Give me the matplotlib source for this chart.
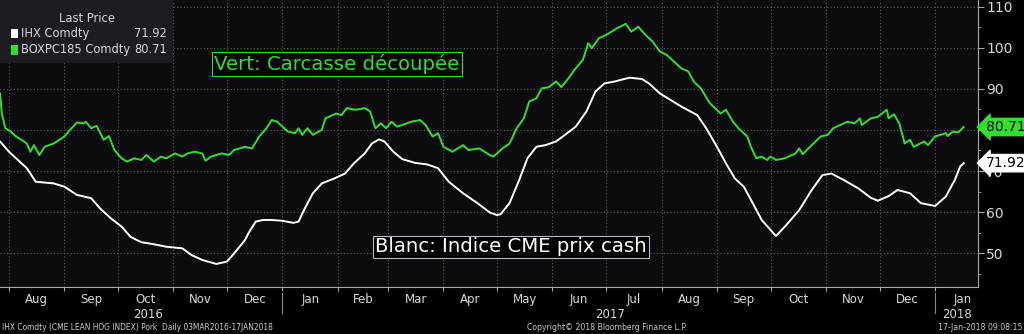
import matplotlib
matplotlib.use("Agg")
import matplotlib.pyplot as plt
import matplotlib.dates as mdates
import matplotlib.patches as patches
from matplotlib.ticker import MultipleLocator
import pandas as pd

# IHX Comdty (white) - CME lean hog index
ihx_dates = ["2016-07-27", "2016-08-01", "2016-08-06", "2016-08-11", "2016-08-16", "2016-08-21",
             "2016-08-26", "2016-09-01", "2016-09-08", "2016-09-16", "2016-09-21", "2016-09-27",
             "2016-10-03", "2016-10-08", "2016-10-14", "2016-10-21", "2016-10-28", "2016-11-06",
             "2016-11-11", "2016-11-17", "2016-11-25", "2016-12-01", "2016-12-05", "2016-12-11",
             "2016-12-13", "2016-12-17", "2016-12-21", "2016-12-26", "2017-01-01", "2017-01-07",
             "2017-01-10", "2017-01-13", "2017-01-18", "2017-01-23", "2017-01-30", "2017-02-05",
             "2017-02-10", "2017-02-16", "2017-02-20", "2017-02-24", "2017-02-27", "2017-03-04",
             "2017-03-09", "2017-03-16", "2017-03-23", "2017-03-29", "2017-04-04", "2017-04-12",
             "2017-04-20", "2017-04-27", "2017-05-01", "2017-05-03", "2017-05-08", "2017-05-13",
             "2017-05-18", "2017-05-23", "2017-05-28", "2017-06-03", "2017-06-08", "2017-06-14",
             "2017-06-20", "2017-06-25", "2017-06-30", "2017-07-06", "2017-07-14", "2017-07-21",
             "2017-07-25", "2017-07-31", "2017-08-06", "2017-08-12", "2017-08-21", "2017-08-26",
             "2017-09-01", "2017-09-06", "2017-09-11", "2017-09-16", "2017-09-21", "2017-09-26",
             "2017-10-04", "2017-10-09", "2017-10-17", "2017-10-24", "2017-10-30", "2017-11-04",
             "2017-11-11", "2017-11-19", "2017-11-26", "2017-11-30", "2017-12-06", "2017-12-11",
             "2017-12-18", "2017-12-24", "2018-01-01", "2018-01-07", "2018-01-12", "2018-01-15",
             "2018-01-17"]
ihx_vals = [77.2, 74.7, 72.7, 70.7, 67.4, 67.2,
            67.0, 66.2, 64.2, 63.4, 60.9, 58.5,
            56.5, 54.0, 52.7, 52.2, 51.6, 51.2,
            49.6, 48.4, 47.4, 48.0, 50.0, 53.2,
            54.9, 57.7, 58.1, 58.1, 57.9, 57.4,
            57.7, 60.5, 64.6, 67.0, 68.2, 69.4,
            71.9, 74.3, 76.7, 77.7, 77.2, 74.7,
            72.9, 72.0, 71.6, 70.7, 67.4, 64.6,
            62.2, 59.9, 59.3, 59.5, 62.2, 67.4,
            73.1, 75.9, 76.3, 77.2, 78.8, 80.8,
            84.5, 89.3, 91.3, 91.8, 92.7, 92.4,
            91.3, 88.9, 87.3, 85.7, 83.6, 80.4,
            75.9, 71.9, 68.2, 66.2, 62.2, 58.1,
            54.2, 56.5, 60.5, 65.4, 69.0, 69.4,
            67.8, 65.8, 63.5, 62.8, 63.9, 65.4,
            64.6, 62.2, 61.5, 63.8, 67.8, 71.1,
            71.92]

# BOXPC185 Comdty (green) - pork cutout
box_dates = ["2016-07-27", "2016-07-28", "2016-07-30", "2016-08-02", "2016-08-05", "2016-08-08",
             "2016-08-11", "2016-08-13", "2016-08-15", "2016-08-18", "2016-08-21", "2016-08-26",
             "2016-09-01", "2016-09-05", "2016-09-08", "2016-09-12", "2016-09-13", "2016-09-16",
             "2016-09-19", "2016-09-23", "2016-09-26", "2016-09-29", "2016-10-03", "2016-10-06",
             "2016-10-10", "2016-10-14", "2016-10-17", "2016-10-21", "2016-10-25", "2016-10-28",
             "2016-11-02", "2016-11-06", "2016-11-09", "2016-11-13", "2016-11-17", "2016-11-19",
             "2016-11-22", "2016-11-28", "2016-12-02", "2016-12-05", "2016-12-11", "2016-12-15",
             "2016-12-19", "2016-12-23", "2016-12-26", "2016-12-29", "2017-01-01", "2017-01-04",
             "2017-01-08", "2017-01-10", "2017-01-12", "2017-01-15", "2017-01-18", "2017-01-23",
             "2017-01-25", "2017-01-31", "2017-02-03", "2017-02-06", "2017-02-11", "2017-02-16",
             "2017-02-19", "2017-02-22", "2017-02-25", "2017-02-28", "2017-03-03", "2017-03-06",
             "2017-03-09", "2017-03-14", "2017-03-19", "2017-03-22", "2017-03-26", "2017-03-29",
             "2017-04-01", "2017-04-06", "2017-04-12", "2017-04-15", "2017-04-21", "2017-04-27",
             "2017-04-29", "2017-05-04", "2017-05-08", "2017-05-12", "2017-05-16", "2017-05-19",
             "2017-05-23", "2017-05-26", "2017-05-30", "2017-06-03", "2017-06-06", "2017-06-10",
             "2017-06-14", "2017-06-18", "2017-06-21", "2017-06-23", "2017-06-27", "2017-07-01",
             "2017-07-04", "2017-07-07", "2017-07-12", "2017-07-15", "2017-07-19", "2017-07-23",
             "2017-07-27", "2017-07-31", "2017-08-04", "2017-08-08", "2017-08-12", "2017-08-16",
             "2017-08-19", "2017-08-23", "2017-08-28", "2017-09-03", "2017-09-06", "2017-09-10",
             "2017-09-13", "2017-09-18", "2017-09-20", "2017-09-23", "2017-09-26", "2017-09-29",
             "2017-10-01", "2017-10-04", "2017-10-09", "2017-10-15", "2017-10-17", "2017-10-19",
             "2017-10-24", "2017-10-29", "2017-11-02", "2017-11-05", "2017-11-09", "2017-11-13",
             "2017-11-17", "2017-11-20", "2017-11-21", "2017-11-26", "2017-11-30", "2017-12-05",
             "2017-12-06", "2017-12-09", "2017-12-12", "2017-12-15", "2017-12-18", "2017-12-20",
             "2017-12-26", "2017-12-28", "2018-01-01", "2018-01-07", "2018-01-08", "2018-01-11",
             "2018-01-14", "2018-01-17"]
box_vals = [88.9, 84.0, 80.4, 79.6, 78.4, 77.6,
            76.7, 74.7, 76.3, 73.9, 75.9, 76.7,
            78.4, 80.4, 81.8, 81.6, 82.0, 80.4,
            81.0, 77.6, 78.5, 75.1, 73.1, 72.3,
            73.1, 72.7, 73.9, 72.3, 73.5, 73.1,
            74.3, 73.5, 74.3, 74.7, 74.3, 72.5,
            73.5, 74.3, 73.9, 75.1, 75.9, 75.5,
            78.4, 80.4, 82.4, 82.0, 80.8, 79.6,
            79.2, 80.4, 78.8, 80.4, 78.8, 80.0,
            82.8, 84.0, 83.6, 85.3, 84.9, 85.3,
            84.5, 80.4, 81.6, 80.4, 82.0, 80.8,
            81.2, 82.0, 82.4, 81.2, 78.4, 79.2,
            75.9, 74.7, 76.3, 75.1, 75.5, 73.9,
            73.5, 75.5, 76.7, 80.4, 82.8, 86.9,
            87.7, 90.1, 90.4, 91.8, 90.4, 92.6,
            95.0, 97.0, 101.1, 99.9, 102.3, 103.1,
            103.9, 104.7, 105.8, 103.9, 105.1, 103.1,
            101.5, 99.1, 98.2, 96.6, 95.0, 94.2,
            91.8, 90.1, 86.5, 84.0, 84.9, 82.0,
            80.4, 78.4, 75.9, 73.1, 73.5, 72.7,
            73.5, 72.7, 73.1, 74.3, 75.5, 74.1,
            76.3, 78.4, 78.8, 80.4, 81.2, 82.0,
            81.6, 82.8, 81.2, 82.8, 83.2, 84.9,
            82.8, 83.8, 81.6, 76.7, 77.6, 75.9,
            77.2, 76.3, 78.4, 79.2, 78.5, 79.6,
            79.4, 80.71]

month_names = ["Aug", "Sep", "Oct", "Nov", "Dec", "Jan", "Feb", "Mar", "Apr", "May",
               "Jun", "Jul", "Aug", "Sep", "Oct", "Nov", "Dec", "Jan"]
years = ["2016", "2017", "2018"]
year_pos = ["2016-10-18", "2017-07-03", "2018-01-13"]

GREEN = "#2fe02f"
GRID = "#5a5a5a"
TXT = "#d8d8d8"

ihx = pd.Series(ihx_vals, index=pd.to_datetime(ihx_dates))
box = pd.Series(box_vals, index=pd.to_datetime(box_dates))

fig = plt.figure(figsize=(10.24, 3.34), dpi=100, facecolor="black")
ax = fig.add_axes([0, 47 / 334, 978 / 1024, 287 / 334])
ax.set_facecolor("#0c0c10")

ax.plot(box.index, box.values, color=GREEN, lw=1.4, zorder=3)
ax.plot(ihx.index, ihx.values, color="white", lw=1.4, zorder=3)

ax.set_xlim(pd.Timestamp("2016-07-27"), pd.Timestamp("2018-01-25"))
ax.set_ylim(41.8, 111.6)

# grid on month starts and every 10
ax.xaxis.set_major_locator(mdates.MonthLocator())
ax.xaxis.set_major_formatter(plt.NullFormatter())
ax.tick_params(axis="x", which="major", length=3, color="#aaaaaa", direction="out")
ax.grid(True, which="major", axis="both", color=GRID, ls=(0, (1, 2)), lw=0.8)

ax.yaxis.tick_right()
ax.yaxis.set_major_locator(MultipleLocator(10))
ax.yaxis.set_minor_locator(MultipleLocator(5))
ax.tick_params(axis="y", which="major", length=4, color="#aaaaaa", labelcolor=TXT, labelsize=10, pad=2)
ax.tick_params(axis="y", which="minor", length=2, color="#aaaaaa")

for s in ["top", "left"]:
    ax.spines[s].set_visible(False)
ax.spines["right"].set_color("#aaaaaa")
ax.spines["bottom"].set_color("#aaaaaa")

# month labels centred between month starts
starts = pd.date_range("2016-08-01", periods=len(month_names) + 1, freq="MS")
mids = starts[:-1] + (starts[1:] - starts[:-1]) / 2
for d, m in zip(mids, month_names):
    ax.text(d, -0.02, m, transform=ax.get_xaxis_transform(), ha="center", va="top",
            color=TXT, fontsize=8.5, clip_on=False)
for d, y in zip(pd.to_datetime(year_pos), years):
    ax.text(d, -0.072, y, transform=ax.get_xaxis_transform(), ha="center", va="top",
            color=TXT, fontsize=8.5, clip_on=False)
for d in pd.to_datetime(["2017-01-01", "2018-01-01"]):
    ax.plot([d, d], [-0.02, -0.09], transform=ax.get_xaxis_transform(), color="#888888",
            lw=0.8, clip_on=False)

# legend box
ax.add_patch(patches.Rectangle((0, 0.78), 173 / 978, 0.22, transform=ax.transAxes,
                               facecolor="#1c1c22", edgecolor="none", zorder=4))
ax.text(87 / 978, 0.937, "Last Price", transform=ax.transAxes, ha="center", va="center",
        color=TXT, fontsize=8.3, zorder=5)
ax.add_patch(patches.Rectangle((11 / 978, 0.866), 7 / 978, 0.033, transform=ax.transAxes,
                               facecolor="white", zorder=5))
ax.add_patch(patches.Rectangle((11 / 978, 0.81), 7 / 978, 0.033, transform=ax.transAxes,
                               facecolor=GREEN, zorder=5))
ax.text(21 / 978, 0.882, "IHX Comdty", transform=ax.transAxes, va="center", color=TXT,
        fontsize=8.3, zorder=5)
ax.text(21 / 978, 0.826, "BOXPC185 Comdty", transform=ax.transAxes, va="center", color=TXT,
        fontsize=8.3, zorder=5)
ax.text(167 / 978, 0.882, f"{ihx_vals[-1]:.2f}", transform=ax.transAxes, va="center",
        ha="right", color=TXT, fontsize=8.3, zorder=5)
ax.text(167 / 978, 0.826, f"{box_vals[-1]:.2f}", transform=ax.transAxes, va="center",
        ha="right", color=TXT, fontsize=8.3, zorder=5)

# annotations
ax.text(337 / 978, 1 - 64 / 287, "Vert: Carcasse découpée", transform=ax.transAxes,
        ha="center", va="center", color=GREEN, fontsize=14.2, zorder=5,
        bbox=dict(boxstyle="square,pad=0.1", fc="black", ec=GREEN, lw=0.8))
ax.text(511 / 978, 1 - 247 / 287, "Blanc: Indice CME prix cash", transform=ax.transAxes,
        ha="center", va="center", color="white", fontsize=14.2, zorder=5,
        bbox=dict(boxstyle="square,pad=0.1", fc="black", ec="#bbbbbb", lw=0.8))

# last value tags
ax.annotate(f"{box_vals[-1]:.2f}", xy=(1.0, box_vals[-1]), xycoords=("axes fraction", "data"),
            xytext=(6, 0), textcoords="offset points", ha="left", va="center", color="black",
            fontsize=10, annotation_clip=False, zorder=6,
            bbox=dict(boxstyle="larrow,pad=0.12", fc=GREEN, ec=GREEN))
ax.annotate(f"{ihx_vals[-1]:.2f}", xy=(1.0, ihx_vals[-1]), xycoords=("axes fraction", "data"),
            xytext=(6, 0), textcoords="offset points", ha="left", va="center", color="black",
            fontsize=10, annotation_clip=False, zorder=6,
            bbox=dict(boxstyle="larrow,pad=0.12", fc="white", ec="white"))

# footer
fig.text(2 / 1024, 6 / 334, "IHX Comdty (CME LEAN HOG INDEX) Pork  Daily 03MAR2016-17JAN2018",
         color="#cccccc", fontsize=5.45, ha="left", va="center")
fig.text(527 / 1024, 6 / 334, "Copyright\u00a9 2018 Bloomberg Finance L.P.",
         color="#cccccc", fontsize=5.6, ha="left", va="center")
fig.text(1022 / 1024, 6 / 334, "17-Jan-2018 09:08:15",
         color="#cccccc", fontsize=5.6, ha="right", va="center")

fig.savefig("out.png", dpi=100, facecolor="black")
